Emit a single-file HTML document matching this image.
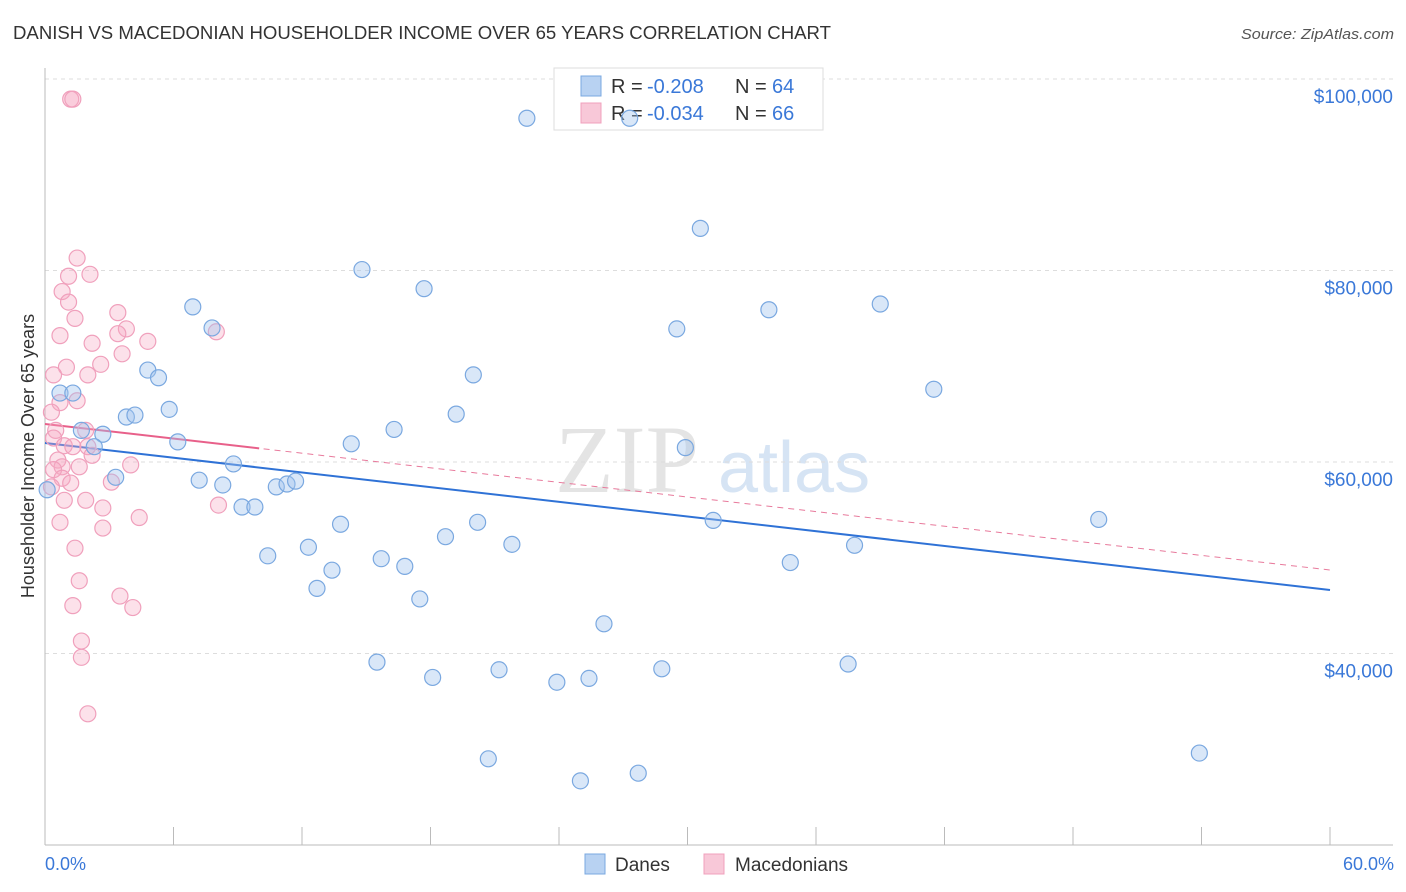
<!DOCTYPE html>
<html><head><meta charset="utf-8"><style>
body{margin:0;background:#fff;font-family:"Liberation Sans",sans-serif;}
svg{display:block}
</style></head><body>
<svg id="chart" width="1406" height="892" xmlns="http://www.w3.org/2000/svg">
<text x="13" y="39" font-size="18" fill="#333" textLength="818" lengthAdjust="spacingAndGlyphs">DANISH VS MACEDONIAN HOUSEHOLDER INCOME OVER 65 YEARS CORRELATION CHART</text>
<text x="1394" y="39" font-size="15" fill="#555" text-anchor="end" font-style="italic" textLength="153" lengthAdjust="spacingAndGlyphs">Source: ZipAtlas.com</text>
<g><text x="555" y="492" font-size="96" fill="#e4e4e4" font-family="Liberation Serif,serif">ZIP</text><text x="718" y="492" font-size="72" fill="#d6e4f4">atlas</text></g>
<text transform="translate(34,456) rotate(-90)" font-size="18" fill="#333" text-anchor="middle">Householder Income Over 65 years</text>
<g id="grid"></g><g id="axes"></g>
<g>
<rect x="554" y="68" width="269" height="62" fill="#fff" stroke="#ddd"/>
<rect x="581" y="76" width="20" height="20" fill="#b8d2f2" stroke="#7aa8e0"/>
<text x="611" y="93" font-size="20" fill="#333">R =</text>
<text x="647" y="93" font-size="20" fill="#3a78d8">-0.208</text>
<text x="735" y="93" font-size="20" fill="#333">N =</text>
<text x="772" y="93" font-size="20" fill="#3a78d8">64</text>
<rect x="581" y="103" width="20" height="20" fill="#f8c8d8" stroke="#f0a0bc"/>
<text x="611" y="120" font-size="20" fill="#333">R =</text>
<text x="647" y="120" font-size="20" fill="#3a78d8">-0.034</text>
<text x="735" y="120" font-size="20" fill="#333">N =</text>
<text x="772" y="120" font-size="20" fill="#3a78d8">66</text>
</g>
<g id="lines"></g><g id="pts"></g>
<g>
<rect x="585" y="854" width="20" height="20" fill="#b8d2f2" stroke="#7aa8e0"/>
<text x="615" y="871" font-size="19" fill="#333">Danes</text>
<rect x="704" y="854" width="20" height="20" fill="#f8c8d8" stroke="#f0a0bc"/>
<text x="735" y="871" font-size="19" fill="#333">Macedonians</text>
</g>
<text x="45" y="870" font-size="18" fill="#3a78d8">0.0%</text>
<text x="1394" y="870" font-size="18" fill="#3a78d8" text-anchor="end">60.0%</text>
</svg>
<script>
const yTicks=[100000,80000,60000,40000];
const yTickLabels=["$100,000","$80,000","$60,000","$40,000"];
const daneX=[22.5,27.3,30.6,14.8,17.7,6.9,29.5,33.8,39.0,7.8,4.8,5.3,20.0,41.5,0.7,1.3,5.8,3.8,4.2,19.2,1.7,2.7,16.3,6.2,14.3,29.9,2.3,3.3,7.2,8.3,8.8,10.8,11.3,11.7,9.2,9.8,31.2,49.2,13.8,20.2,18.7,12.3,21.8,10.4,37.8,15.7,16.8,34.8,13.4,12.7,17.5,26.1,15.5,18.1,21.2,23.9,25.4,28.8,37.5,20.7,25.0,27.7,53.9,0.1];
const daneY=[95.9,95.9,84.4,80.1,78.1,76.2,73.9,75.9,76.5,74.0,69.6,68.8,69.1,67.6,67.2,67.2,65.5,64.7,64.9,65.0,63.3,62.9,63.4,62.1,61.9,61.5,61.6,58.4,58.1,57.6,59.8,57.4,57.7,58.0,55.3,55.3,53.9,54.0,53.5,53.7,52.2,51.1,51.4,50.2,51.3,49.9,49.1,49.5,48.7,46.8,45.7,43.1,39.1,37.5,38.3,37.0,37.4,38.4,38.9,29.0,26.7,27.5,29.6,57.1];
const macX=[1.2,1.3,1.5,1.1,2.1,0.8,1.1,1.4,3.4,3.8,0.7,3.4,2.2,4.8,8.0,3.6,1.0,2.6,0.4,2.0,0.7,1.5,0.3,0.5,0.4,1.9,0.9,1.3,2.0,0.6,0.8,0.4,1.6,4.0,2.2,0.8,1.2,0.3,3.1,0.9,1.9,0.7,2.7,4.4,8.1,2.7,1.4,1.6,3.5,1.3,4.1,1.7,1.7,2.0];
const macY=[97.9,97.9,81.3,79.4,79.6,77.8,76.7,75.0,75.6,73.9,73.2,73.4,72.4,72.6,73.6,71.3,69.9,70.2,69.1,69.1,66.2,66.4,65.2,63.3,62.5,63.3,61.7,61.6,61.6,60.2,59.5,59.2,59.5,59.7,60.7,58.3,57.8,57.4,57.9,56.0,56.0,53.7,55.2,54.2,55.5,53.1,51.0,47.6,46.0,45.0,44.8,41.3,39.6,33.7];
const daneTrend=[61.98,46.63];
const macTrend=[63.97,48.72];
const NS="http://www.w3.org/2000/svg";
const X=p=>45+p*1285/60;
const Y=v=>79+(100-v)*191.5/20;
function mk(t,a,p){const e=document.createElementNS(NS,t);for(const k in a)e.setAttribute(k,a[k]);p.appendChild(e);return e;}
const grid=document.getElementById('grid'),axes=document.getElementById('axes'),lines=document.getElementById('lines'),pts=document.getElementById('pts');
yTicks.forEach((t,i)=>{
 const l=mk('line',{x1:45,x2:1393,y1:Y(t/1000),y2:Y(t/1000),stroke:'#ddd','stroke-dasharray':'4,4'},grid);
 
 
 const tx=mk('text',{x:1393,y:Y(t/1000)+24,'font-size':19,fill:'#3a78d8','text-anchor':'end'},grid);
 tx.textContent=yTickLabels[i];
 
 
});
mk('line',{x1:45,x2:45,y1:68,y2:845,stroke:'#bbb'},axes);
mk('line',{x1:45,x2:1393,y1:845,y2:845,stroke:'#bbb'},axes);
for(let i=0;i<=10;i++){const t=mk('line',{x1:X(i*6),x2:X(i*6),y1:827,y2:845,stroke:'#bbb'},axes);
 
 }
function dots(xs,ys,fill,stroke,name){xs.forEach((x,i)=>{const c=mk('circle',{cx:X(x),cy:Y(ys[i]),r:8,fill:fill,stroke:stroke,'stroke-width':1.2},pts);
 
 });}
dots(macX,macY,'rgba(246,170,196,0.35)','#f0a0bc','macedonian-point');
dots(daneX,daneY,'rgba(160,195,238,0.4)','#7aa8e0','dane-point');
const bl=mk('line',{x1:X(0),y1:Y(daneTrend[0]),x2:X(60),y2:Y(daneTrend[1]),stroke:'#2f72d6','stroke-width':2},lines);


const md=mk('line',{x1:X(0),y1:Y(macTrend[0]),x2:X(60),y2:Y(macTrend[1]),stroke:'#e87a9c','stroke-width':1,'stroke-dasharray':'6,5'},lines);


const f=10/60;
const ms=mk('line',{x1:X(0),y1:Y(macTrend[0]),x2:X(10),y2:Y(macTrend[0]+(macTrend[1]-macTrend[0])*f),stroke:'#e8608a','stroke-width':2},lines);


</script>
</body></html>
